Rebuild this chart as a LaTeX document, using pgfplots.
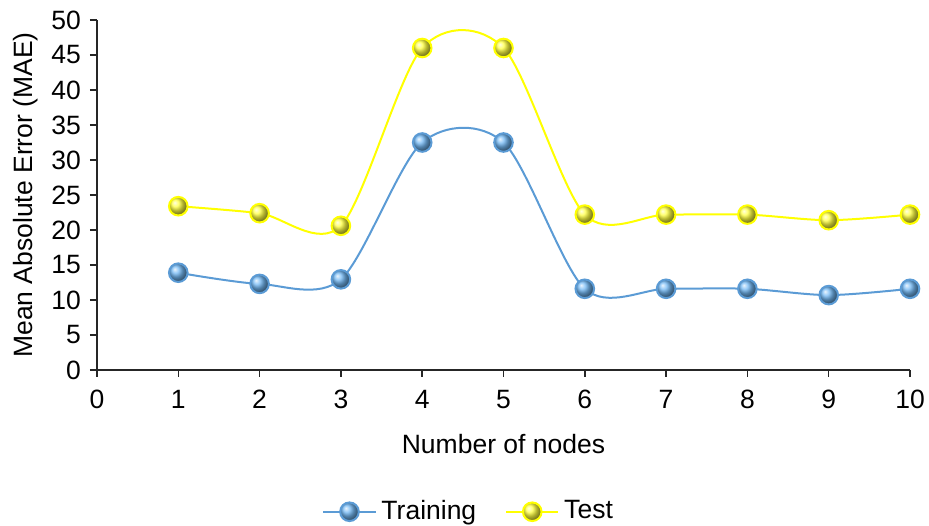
\documentclass[border=0pt]{standalone}
\usepackage{pgfplots}
\pgfplotsset{compat=1.18}
\usepackage{fontspec}
\setmainfont{Liberation Sans}
\definecolor{trainline}{HTML}{5B9BD5}
\definecolor{trainball}{HTML}{72B8F4}
\definecolor{testline}{HTML}{FFFF00}
\definecolor{testball}{HTML}{FFFF40}
\begin{document}
\fontsize{26.5}{30}\selectfont
\begin{tikzpicture}
\path[use as bounding box] (-97pt,-156pt) rectangle (832pt,370pt);
\begin{axis}[
  at={(0,0)}, anchor=south west,
  scale only axis, width=813pt, height=350pt,
  xmin=0, xmax=10, ymin=0, ymax=50,
  xtick={0,1,...,10}, ytick={0,5,...,50},
  axis lines=left, axis line style={line width=1.5pt, -, black!85},
  tick align=outside, major tick length=7pt,
  tick style={line width=1.5pt, black!85},
  every tick label/.append style={font=\fontsize{26.5}{30}\selectfont},
  xticklabel style={yshift=-4pt},
  /pgf/number format/assume math mode=true,
  xlabel={Number of nodes},
  ylabel={Mean Absolute Error (MAE)},
  label style={font=\fontsize{26.5}{30}\selectfont},
  xlabel style={yshift=-8pt},
  ylabel style={yshift=-4pt},
  clip=false,
  legend columns=2,
  legend style={draw=none, at={(0.459,-0.405)}, anchor=center,
    font=\fontsize{26.5}{30}\selectfont,
    /tikz/every even column/.append style={column sep=24pt},
    nodes={inner xsep=5pt}},
  legend image code/.code={\draw[mark repeat=2,mark phase=2] plot coordinates {(0pt,0pt)(26pt,0pt)(52pt,0pt)};},
]
\addplot[trainline, line width=2pt, smooth, tension=0.5, mark=ball, mark size=9.3pt, mark options={ball color=trainball}]
  coordinates {(1,13.9)(2,12.3)(3,12.95)(4,32.5)(5,32.5)(6,11.6)(7,11.6)(8,11.6)(9,10.7)(10,11.6)};
\addlegendentry{Training}
\addplot[testline, line width=2pt, smooth, tension=0.5, mark=ball, mark size=9.3pt, mark options={ball color=testball}]
  coordinates {(1,23.4)(2,22.4)(3,20.6)(4,46.0)(5,46.0)(6,22.2)(7,22.2)(8,22.2)(9,21.4)(10,22.2)};
\addlegendentry{Test}
\end{axis}
\end{tikzpicture}
\end{document}
